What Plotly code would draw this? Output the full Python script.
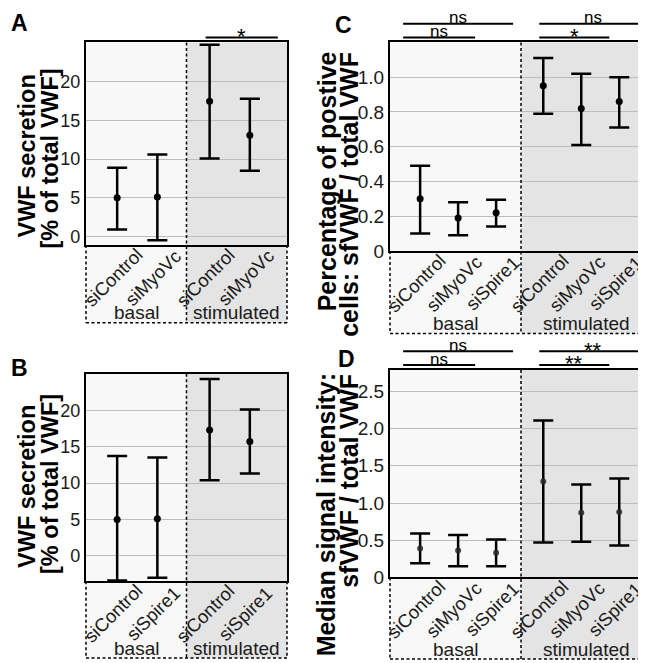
import plotly.graph_objects as go

W, H = 646, 663

# ---------------- data ----------------
groups = ["basal", "stimulated"]

a_categories = ["siControl", "siMyoVc"]
a_mean = [5.0, 5.1, 17.5, 13.1]
a_upper = [8.9, 10.6, 24.8, 17.8]
a_lower = [0.9, -0.5, 10.1, 8.5]
a_ticks = [0, 5, 10, 15, 20]
a_ticktext = ["0", "5", "10", "15", "20"]
a_sig = [("stimulated", 0, 1, "*", 2)]

b_categories = ["siControl", "siSpire1"]
b_mean = [5.0, 5.1, 17.3, 15.7]
b_upper = [13.7, 13.5, 24.3, 20.1]
b_lower = [-3.4, -3.0, 10.4, 11.3]
b_ticks = [0, 5, 10, 15, 20]
b_ticktext = ["0", "5", "10", "15", "20"]
b_sig = []

c_categories = ["siControl", "siMyoVc", "siSpire1"]
c_mean = [0.30, 0.19, 0.22, 0.95, 0.82, 0.86]
c_upper = [0.49, 0.28, 0.295, 1.11, 1.02, 1.00]
c_lower = [0.10, 0.09, 0.14, 0.79, 0.61, 0.71]
c_ticks = [0, 0.2, 0.4, 0.6, 0.8, 1.0]
c_ticktext = ["0", "0.2", "0.4", "0.6", "0.8", "1.0"]
c_sig = [("basal", 0, 2, "ns", 1), ("basal", 0, 1, "ns", 2),
         ("stimulated", 0, 2, "ns", 1), ("stimulated", 0, 1, "*", 2)]

d_categories = ["siControl", "siMyoVc", "siSpire1"]
d_mean = [0.39, 0.36, 0.33, 1.29, 0.87, 0.88]
d_upper = [0.59, 0.57, 0.51, 2.11, 1.25, 1.33]
d_lower = [0.19, 0.15, 0.15, 0.47, 0.48, 0.43]
d_ticks = [0, 0.5, 1.0, 1.5, 2.0, 2.5]
d_ticktext = ["0", "0.5", "1.0", "1.5", "2.0", "2.5"]
d_sig = [("basal", 0, 2, "ns", 1), ("basal", 0, 1, "ns", 2),
         ("stimulated", 0, 2, "**", 1), ("stimulated", 0, 1, "**", 2)]

# ---------------- layout constants ----------------
FONT = "Liberation Sans, Arial, Helvetica, sans-serif"
BASAL_BG = "#f8f8f8"
STIM_BG = "#e4e4e4"

panels = [
    dict(key="A", cats=a_categories, mean=a_mean, upper=a_upper, lower=a_lower,
         ticks=a_ticks, ticktext=a_ticktext, sig=a_sig, yrange=[-1.1, 25.1],
         box=(78, 279, 35, 241, 320), letter=(11, 15), tickfs=18, labfs=23.5,
         ylab=[("VWF secretion", 19, 151, "middle"), ("[% of total VWF]", 42, 153, "middle")],
         msize=7, mcolor="black"),
    dict(key="B", cats=b_categories, mean=b_mean, upper=b_upper, lower=b_lower,
         ticks=b_ticks, ticktext=b_ticktext, sig=b_sig, yrange=[-3.5, 25.0],
         box=(78, 279, 372, 583, 661), letter=(11, 366), tickfs=18, labfs=23.5,
         ylab=[("VWF secretion", 19, 487, "middle"), ("[% of total VWF]", 42, 484, "middle")],
         msize=7, mcolor="black"),
    dict(key="C", cats=c_categories, mean=c_mean, upper=c_upper, lower=c_lower,
         ticks=c_ticks, ticktext=c_ticktext, sig=c_sig, yrange=[0, 1.2],
         box=(382, 644, 35, 247, 331), letter=(335, 17), tickfs=19, labfs=25,
         ylab=[("Percentage of postive", 319, 42, "top"),
               ("cells: sfVWF / total VWF", 341, 43, "top")],
         msize=7, mcolor="black"),
    dict(key="D", cats=d_categories, mean=d_mean, upper=d_upper, lower=d_lower,
         ticks=d_ticks, ticktext=d_ticktext, sig=d_sig, yrange=[0, 2.79],
         box=(382, 644, 368, 579, 662), letter=(338, 357), tickfs=19, labfs=25,
         ylab=[("Median signal intensity:", 318, 370, "top"),
               ("sfVWF / total VWF", 341, 370, "top")],
         msize=6, mcolor="rgba(40,40,40,0.85)"),
]


def px(x):
    return x / W


def py(y):
    return 1 - y / H


def cat_positions(n):
    if n == 2:
        centers, spacing = [0.51, 1.43], 0.40
    else:
        centers, spacing = [0.52, 1.46], 0.29
    out = []
    for g in range(2):
        for k in range(n):
            out.append(centers[g] + (k - (n - 1) / 2) * spacing)
    return out


fig = go.Figure()
shapes = []
annotations = []

for i, p in enumerate(panels):
    idx = "" if i == 0 else str(i + 1)
    xa, ya = "xaxis" + idx, "yaxis" + idx
    xr, yr = "x" + idx, "y" + idx
    x0, x1, y0, y1, yb = p["box"]
    n = len(p["cats"])
    pos = cat_positions(n)

    def to_px(xd, x0=x0, x1=x1):
        return x0 + xd / 2.0 * (x1 - x0)

    xdiv = to_px(1.0)

    # backgrounds (plot area + category box)
    shapes.append(dict(type="rect", xref="paper", yref="paper", layer="below",
                       x0=px(x0), x1=px(xdiv), y0=py(yb), y1=py(y0),
                       fillcolor=BASAL_BG, line=dict(width=0)))
    shapes.append(dict(type="rect", xref="paper", yref="paper", layer="below",
                       x0=px(xdiv), x1=px(x1), y0=py(yb), y1=py(y0),
                       fillcolor=STIM_BG, line=dict(width=0)))
    dot = dict(color="black", width=1.5, dash="3px,2.5px")
    shapes.append(dict(type="line", xref="paper", yref="paper",
                       x0=px(xdiv), x1=px(xdiv), y0=py(y0), y1=py(yb), line=dot))
    shapes.append(dict(type="line", xref="paper", yref="paper",
                       x0=px(x0), x1=px(x0), y0=py(y1), y1=py(yb), line=dot))
    shapes.append(dict(type="line", xref="paper", yref="paper",
                       x0=px(x1), x1=px(x1), y0=py(y1), y1=py(yb), line=dot))
    shapes.append(dict(type="line", xref="paper", yref="paper",
                       x0=px(x0), x1=px(x1), y0=py(yb), y1=py(yb), line=dot))

    # data trace
    err_plus = [u - m for u, m in zip(p["upper"], p["mean"])]
    err_minus = [m - l for m, l in zip(p["mean"], p["lower"])]
    fig.add_trace(go.Scatter(
        x=pos, y=p["mean"], mode="markers", xaxis=xr, yaxis=yr,
        marker=dict(size=p["msize"], color=p["mcolor"]),
        error_y=dict(type="data", symmetric=False, array=err_plus,
                     arrayminus=err_minus, width=10, thickness=2.5, color="black"),
        showlegend=False, hoverinfo="skip"))

    fig.update_layout({
        xa: dict(domain=[px(x0), px(x1)], range=[0, 2], showgrid=False,
                 showticklabels=False, zeroline=False, showline=True, mirror=True,
                 linecolor="black", linewidth=2.2, anchor=yr, ticks=""),
        ya: dict(domain=[py(y1), py(y0)], range=p["yrange"], showgrid=True,
                 gridcolor="#bcbcbc", gridwidth=1.3, zeroline=False, showline=True,
                 mirror=True, linecolor="black", linewidth=2.2, anchor=xr,
                 tickvals=p["ticks"], ticktext=p["ticktext"], ticks="",
                 tickfont=dict(family=FONT, size=p["tickfs"], color="#1a1a1a")),
    })

    # category labels
    for g in range(2):
        for k, c in enumerate(p["cats"]):
            xc = to_px(pos[g * n + k]) - 4
            annotations.append(dict(text=c, xref="paper", yref="paper",
                                    x=px(xc), y=py(y1 + 33), xanchor="center",
                                    yanchor="middle", textangle=-45, showarrow=False,
                                    font=dict(family=FONT, size=18.5, color="#1a1a1a")))
        gx = (to_px(g) + to_px(g + 1)) / 2
        annotations.append(dict(text=groups[g], xref="paper", yref="paper",
                                x=px(gx), y=py(yb - 10), xanchor="center",
                                yanchor="middle", showarrow=False,
                                font=dict(family=FONT, size=19, color="#1a1a1a")))

    # significance brackets
    for grp, ci, cj, lab, row in p["sig"]:
        g = groups.index(grp)
        xa_px = to_px(pos[g * n + ci])
        xb_px = to_px(pos[g * n + cj])
        if g == 0:
            lx, rx = xa_px - 17, xb_px + 17
        else:
            lx, rx = xa_px - 4, xb_px + 28
        ly = y0 - (19 if row == 1 else 5)
        shapes.append(dict(type="line", xref="paper", yref="paper",
                           x0=px(lx), x1=px(min(rx, W - 1)), y0=py(ly), y1=py(ly),
                           line=dict(color="black", width=2)))
        if lab == "ns":
            annotations.append(dict(text=lab, xref="paper", yref="paper",
                                    x=px((lx + rx) / 2), y=py(ly - 6), xanchor="center",
                                    yanchor="middle", showarrow=False,
                                    font=dict(family=FONT, size=17, color="black")))
        else:
            annotations.append(dict(text=lab, xref="paper", yref="paper",
                                    x=px((lx + rx) / 2), y=py(ly - 1), xanchor="center",
                                    yanchor="middle", showarrow=False,
                                    font=dict(family=FONT, size=22, color="black")))

    # panel letter
    lxp, lyp = p["letter"]
    annotations.append(dict(text="<b>%s</b>" % p["key"], xref="paper", yref="paper",
                            x=px(lxp), y=py(lyp), xanchor="center", yanchor="middle",
                            showarrow=False, font=dict(family=FONT, size=23, color="black")))
    # y labels
    for txt, lx_, ly_, anch in p["ylab"]:
        annotations.append(dict(text="<b>%s</b>" % txt, xref="paper", yref="paper",
                                x=px(lx_), y=py(ly_), xanchor="center", yanchor=anch,
                                textangle=-90, showarrow=False,
                                font=dict(family=FONT, size=p["labfs"], color="black")))

fig.update_layout(width=W, height=H, margin=dict(l=0, r=0, t=0, b=0),
                  paper_bgcolor="white", plot_bgcolor="rgba(0,0,0,0)",
                  shapes=shapes, annotations=annotations, showlegend=False)

fig.write_html("out.html")
